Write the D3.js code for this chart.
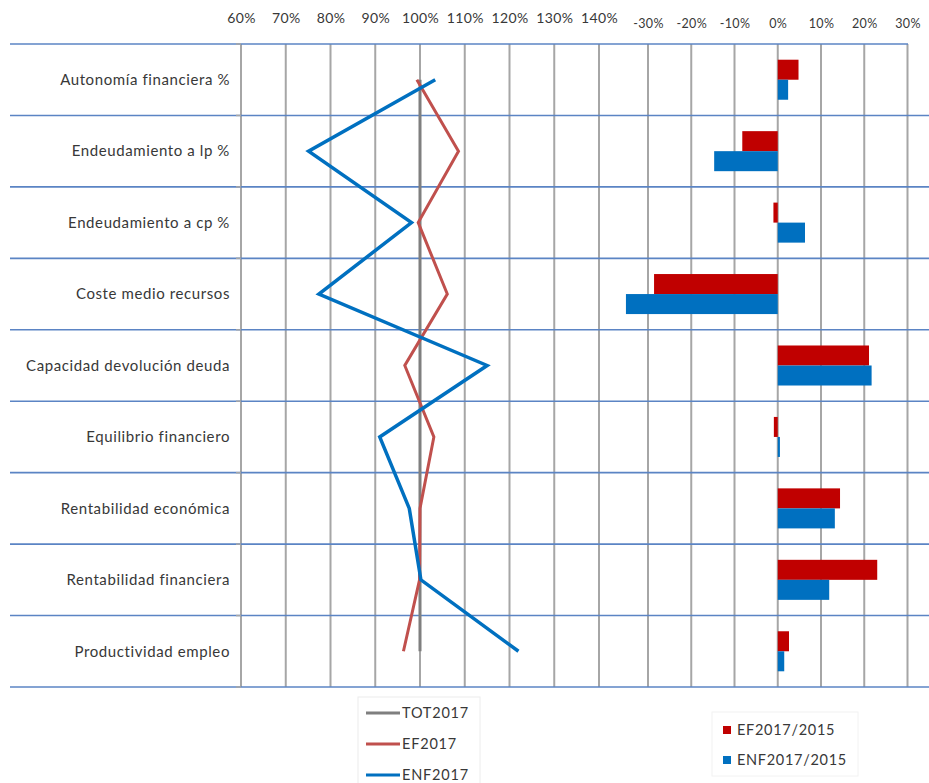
<!DOCTYPE html>
<html><head><meta charset="utf-8">
<script src="https://cdn.jsdelivr.net/npm/d3@7"></script>
<style>body{margin:0;background:#fff;} svg{display:block;font-family:Lato,'Open Sans',sans-serif;}</style>
</head><body><svg id="c" width="929" height="783"></svg>
<script>
const categories = ["Autonomía financiera %","Endeudamiento a lp %","Endeudamiento a cp %","Coste medio recursos","Capacidad devolución deuda","Equilibrio financiero","Rentabilidad económica","Rentabilidad financiera","Productividad empleo"];
const tot2017 = [100,100,100,100,100,100,100,100,100];
const ef2017 = [99.3,108.6,99.6,106.1,96.6,103.1,100.0,99.9,96.3];
const enf2017 = [103.4,75.1,98.1,77.4,115.0,91.0,97.6,100.2,122.0];
const ef20172015 = [4.8,-8.2,-1.0,-28.6,21.1,-0.9,14.4,23.0,2.6];
const enf20172015 = [2.4,-14.7,6.3,-35.1,21.7,0.5,13.2,11.9,1.5];
const leftTicks = [60,70,80,90,100,110,120,130,140];
const rightTicks = [-30,-20,-10,0,10,20,30];
const lineSeries = [
  {name:"TOT2017", values:tot2017, color:"#7f7f7f"},
  {name:"EF2017", values:ef2017, color:"#c0504d"},
  {name:"ENF2017", values:enf2017, color:"#0070c0"}
];
const barSeries = [
  {name:"EF2017/2015", values:ef20172015, color:"#c00000"},
  {name:"ENF2017/2015", values:enf20172015, color:"#0070c0"}
];

const svg = d3.select("#c");
svg.append("rect").attr("width",929).attr("height",783).attr("fill","#fff");
const yTop = 44, yBot = 687;
const y = d3.scaleBand().domain(categories).range([yTop,yBot]);
const xL = d3.scaleLinear().domain([60,140]).range([241,599]);
const xR = d3.scaleLinear().domain([-30,30]).range([648,907.5]);
const yIn = d3.scaleBand().domain(barSeries.map(d=>d.name)).range([0,y.bandwidth()]).paddingOuter(0.785);

const txt = "#383838";
// vertical gridlines
svg.append("g").selectAll("line").data(leftTicks).join("line")
  .attr("x1",d=>xL(d)).attr("x2",d=>xL(d)).attr("y1",yTop).attr("y2",yBot)
  .attr("stroke","#a6a6a6").attr("stroke-width",2);
svg.append("g").selectAll("line").data(rightTicks).join("line")
  .attr("x1",d=>xR(d)).attr("x2",d=>xR(d)).attr("y1",yTop).attr("y2",yBot)
  .attr("stroke","#a6a6a6").attr("stroke-width",2);

// horizontal category lines
const bounds = categories.map(c=>y(c)).concat([yBot]);
svg.append("g").selectAll("line").data(bounds).join("line")
  .attr("x1",10).attr("x2",(d,i)=>i===0?908:929).attr("y1",d=>d).attr("y2",d=>d)
  .attr("stroke","#5b84c4").attr("stroke-width",1.6);
// small ticks on left axis
svg.append("g").selectAll("line").data(bounds).join("line")
  .attr("x1",236).attr("x2",241).attr("y1",d=>d).attr("y2",d=>d)
  .attr("stroke","#a6a6a6").attr("stroke-width",1.5);

// top axes
const gL = svg.append("g").attr("transform",`translate(0,${yTop})`)
  .call(d3.axisTop(xL).tickValues(leftTicks).tickFormat(d=>d+"%").tickSize(0).tickPadding(21));
gL.select(".domain").remove();
gL.selectAll("text").attr("fill",txt).style("font-size","14px").style("letter-spacing","0.4px").style("font-family","Lato");
const gR = svg.append("g").attr("transform",`translate(0,${yTop})`)
  .call(d3.axisTop(xR).tickValues(rightTicks).tickFormat(d=>d+"%").tickSize(0).tickPadding(16));
gR.select(".domain").remove();
gR.selectAll("text").attr("fill",txt).style("font-size","12.5px").style("letter-spacing","0.4px").style("font-family","Lato");

// category labels
svg.append("g").selectAll("text").data(categories).join("text")
  .attr("x",230).attr("y",d=>y(d)+y.bandwidth()/2).attr("dy","0.35em")
  .attr("text-anchor","end").attr("fill",txt).style("font-size","15px").style("letter-spacing","0.6px").text(d=>d);

// bars
barSeries.forEach(s=>{
  svg.append("g").selectAll("rect").data(s.values).join("rect")
    .attr("x",d=>xR(Math.min(0,d))).attr("width",d=>Math.abs(xR(d)-xR(0)))
    .attr("y",(d,i)=>y(categories[i])+yIn(s.name)).attr("height",yIn.bandwidth())
    .attr("fill",s.color);
});

// lines
const line = d3.line().x(d=>xL(d)).y((d,i)=>y(categories[i])+y.bandwidth()/2);
lineSeries.forEach(s=>{
  svg.append("path").datum(s.values).attr("d",line).attr("fill","none")
    .attr("stroke",s.color).attr("stroke-width",s.name==="ENF2017"?3.5:3).attr("stroke-linejoin","miter");
});

// left legend
svg.append("rect").attr("x",358).attr("y",697).attr("width",122).attr("height",95)
  .attr("fill","#fff").attr("stroke","#ececec");
const lg = svg.append("g").selectAll("g").data(lineSeries).join("g")
  .attr("transform",(d,i)=>`translate(366,${713+i*31})`);
lg.append("line").attr("x1",0).attr("x2",34).attr("stroke",d=>d.color).attr("stroke-width",3);
lg.append("text").attr("x",36).attr("dy","0.35em").attr("fill",txt).style("font-size","14.5px").style("letter-spacing","0.8px").text(d=>d.name);

// right legend
svg.append("rect").attr("x",712).attr("y",712).attr("width",146).attr("height",64)
  .attr("fill","#fff").attr("stroke","#f2f2f2");
const rg = svg.append("g").selectAll("g").data(barSeries).join("g")
  .attr("transform",(d,i)=>`translate(723,${730+i*30})`);
rg.append("rect").attr("x",0).attr("y",-4).attr("width",8).attr("height",8).attr("fill",d=>d.color);
rg.append("text").attr("x",14).attr("dy","0.35em").attr("fill",txt).style("font-size","14.5px").style("letter-spacing","0.7px").text(d=>d.name);
</script></body></html>
